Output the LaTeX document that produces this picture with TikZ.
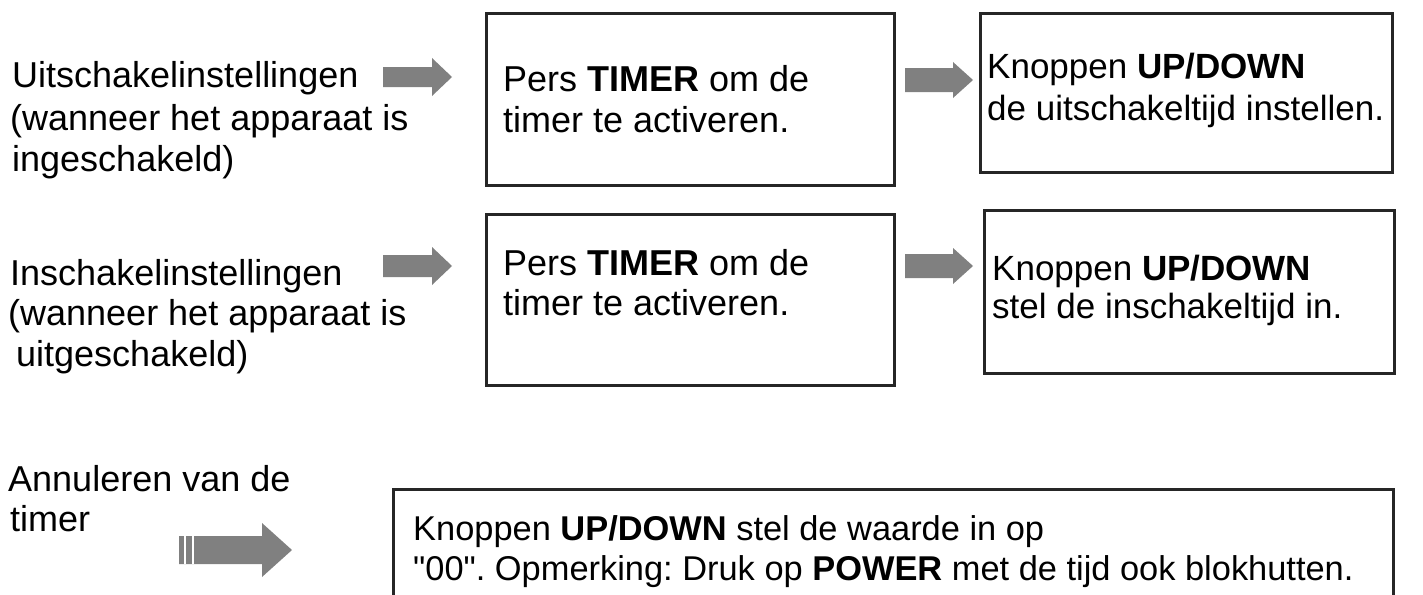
\documentclass[tikz,border=0pt]{standalone}
\usepackage{fontspec}
\setmainfont{Liberation Sans}
\begin{document}
\frenchspacing
\begin{tikzpicture}[x=1pt,y=-1pt,
  txt/.style={anchor=base west,inner sep=0pt,font=\fontsize{36}{43}\selectfont},
  txtb/.style={anchor=base west,inner sep=0pt,font=\fontsize{35}{42}\selectfont},
  txtc/.style={anchor=base west,inner sep=0pt,font=\fontsize{34.4}{41}\selectfont},
  boxx/.style={draw=black!85,line width=2.6pt,anchor=north west,inner sep=0pt},
  arrowfill/.style={fill=black!50}]
\useasboundingbox (0,0) rectangle (1423,594);
\clip (0,0) rectangle (1423,594);
\newcommand{\blockarr}[6]{\fill[arrowfill] (#1,#4-#5) -- (#2,#4-#5) -- (#2,#4-#6) -- (#3,#4) -- (#2,#4+#6) -- (#2,#4+#5) -- (#1,#4+#5) -- cycle;}
% boxes
\node[boxx,minimum width=408pt,minimum height=172pt] (b1) at (485,12) {};
\node[boxx,minimum width=412pt,minimum height=159pt] (b2) at (979,12) {};
\node[boxx,minimum width=408pt,minimum height=171pt] (b3) at (485,213) {};
\node[boxx,minimum width=410pt,minimum height=163pt] (b4) at (983,209) {};
\node[boxx,minimum width=1000pt,minimum height=140pt] (b5) at (392,488) {};
% left labels
\node[txt] (l1a) at (12,88) {Uitschakelinstellingen};
\node[txt] (l1b) at (10,130) {(wanneer het apparaat is};
\node[txt] (l1c) at (12,171) {ingeschakeld)};
\node[txt] (l2a) at (10,285) {Inschakelinstellingen};
\node[txt] (l2b) at (8,325) {(wanneer het apparaat is};
\node[txt] (l2c) at (16,366) {uitgeschakeld)};
\node[txt] (l3a) at (8,491) {Annuleren van de};
\node[txt] (l3b) at (10,531) {timer};
% box texts
\node[txt] (t1a) at (503,91) {Pers \textbf{TIMER} om de};
\node[txt] (t1b) at (503,132) {timer te activeren.};
\node[txtb] (t2a) at (987,78) {Knoppen \textbf{UP/DOWN}};
\node[txtb] (t2b) at (987,120) {de uitschakeltijd instellen.};
\node[txt] (t3a) at (503,275) {Pers \textbf{TIMER} om de};
\node[txt] (t3b) at (503,315) {timer te activeren.};
\node[txtb] (t4a) at (992,280) {Knoppen \textbf{UP/DOWN}};
\node[txtb] (t4b) at (992,318) {stel de inschakeltijd in.};
\node[txtc] (t5a) at (413,540) {Knoppen \textbf{UP/DOWN} stel de waarde in op};
\node[txtc] (t5b) at (413,580) {\textquotedbl 00\textquotedbl. Opmerking: Druk op \textbf{POWER} met de tijd ook blokhutten.};
% block arrows
\blockarr{383}{432}{452}{77}{10}{19}
\blockarr{905}{953}{973}{80}{12}{18}
\blockarr{383}{432}{452}{266}{11}{19}
\blockarr{905}{953}{973}{266}{12}{18}
\blockarr{179}{262}{292}{550}{14}{27}
\draw[white,line width=1.2pt] (185,536) -- (185,564) (193,536) -- (193,564);
\end{tikzpicture}
\end{document}
